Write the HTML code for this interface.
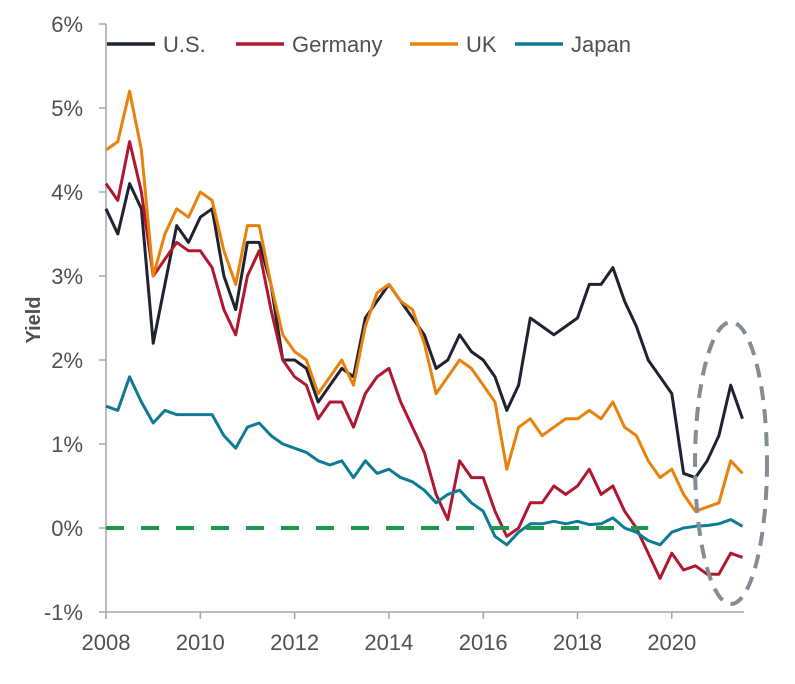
<!DOCTYPE html>
<html><head><meta charset="utf-8"><style>
html,body{margin:0;padding:0;background:#fff;}
svg{display:block;font-family:"Liberation Sans",Arial,sans-serif;}
</style></head><body>
<svg id="chart" width="795" height="684" viewBox="0 0 795 684"></svg>
<script>
const years = [];
for (let i = 0; i <= 54; i++) years.push(2008 + i * 0.25);
const usYield = [3.8,3.5,4.1,3.8,2.2,2.9,3.6,3.4,3.7,3.8,3.0,2.6,3.4,3.4,2.9,2.0,2.0,1.9,1.5,1.7,1.9,1.8,2.5,2.7,2.9,2.7,2.5,2.3,1.9,2.0,2.3,2.1,2.0,1.8,1.4,1.7,2.5,2.4,2.3,2.4,2.5,2.9,2.9,3.1,2.7,2.4,2.0,1.8,1.6,0.65,0.6,0.8,1.1,1.7,1.3];
const germanyYield = [4.1,3.9,4.6,4.0,3.0,3.2,3.4,3.3,3.3,3.1,2.6,2.3,3.0,3.3,2.6,2.0,1.8,1.7,1.3,1.5,1.5,1.2,1.6,1.8,1.9,1.5,1.2,0.9,0.4,0.1,0.8,0.6,0.6,0.2,-0.1,0.0,0.3,0.3,0.5,0.4,0.5,0.7,0.4,0.5,0.2,0.0,-0.3,-0.6,-0.3,-0.5,-0.45,-0.55,-0.55,-0.3,-0.35];
const ukYield = [4.5,4.6,5.2,4.5,3.0,3.5,3.8,3.7,4.0,3.9,3.3,2.9,3.6,3.6,2.9,2.3,2.1,2.0,1.6,1.8,2.0,1.7,2.4,2.8,2.9,2.7,2.6,2.2,1.6,1.8,2.0,1.9,1.7,1.5,0.7,1.2,1.3,1.1,1.2,1.3,1.3,1.4,1.3,1.5,1.2,1.1,0.8,0.6,0.7,0.4,0.2,0.25,0.3,0.8,0.65];
const japanYield = [1.45,1.4,1.8,1.5,1.25,1.4,1.35,1.35,1.35,1.35,1.1,0.95,1.2,1.25,1.1,1.0,0.95,0.9,0.8,0.75,0.8,0.6,0.8,0.65,0.7,0.6,0.55,0.45,0.3,0.4,0.45,0.3,0.2,-0.1,-0.2,-0.05,0.05,0.05,0.08,0.05,0.08,0.04,0.05,0.12,0.0,-0.05,-0.15,-0.2,-0.05,0.0,0.02,0.03,0.05,0.1,0.02];
const yTicks = [-1,0,1,2,3,4,5,6];
const xTicks = [2008,2010,2012,2014,2016,2018,2020];

const svg = document.getElementById('chart');
const NS = 'http://www.w3.org/2000/svg';
const xS = y => 106 + (y - 2008) * 47.15;
const yS = v => 528 - v * 84;
function mk(tag, attrs, parent) {
  const e = document.createElementNS(NS, tag);
  for (const k in attrs) e.setAttribute(k, attrs[k]);
  (parent || svg).appendChild(e);
  return e;
}
const ax = mk('line', {x1:106,y1:yS(6),x2:106,y2:yS(-1),stroke:'#a6a6a6','stroke-width':1.5});


const xa = mk('line', {x1:106,y1:yS(-1),x2:744,y2:yS(-1),stroke:'#a6a6a6','stroke-width':1.5});


yTicks.forEach(t => {
  mk('line', {x1:99,y1:yS(t),x2:106,y2:yS(t),stroke:'#a6a6a6','stroke-width':1.5});
  const tx = mk('text', {x:83,y:yS(t)+8,'text-anchor':'end','font-size':22,fill:'#505050'});
  tx.textContent = t + '%';
  
  
});
xTicks.forEach(t => {
  mk('line', {x1:xS(t),y1:yS(-1),x2:xS(t),y2:yS(-1)+7,stroke:'#a6a6a6','stroke-width':1.5});
  const tx = mk('text', {x:xS(t),y:650,'text-anchor':'middle','font-size':22,fill:'#505050'});
  tx.textContent = t;
  
  
});
const yt = mk('text', {x:0,y:0,transform:'translate(40,320) rotate(-90)','text-anchor':'middle','font-size':20,'font-weight':'bold',fill:'#505050'});
yt.textContent = 'Yield';



function series(vals, color, name) {
  const d = vals.map((v, i) => (i ? 'L' : 'M') + xS(years[i]).toFixed(1) + ',' + yS(v).toFixed(1)).join(' ');
  const p = mk('path', {d:d,fill:'none',stroke:color,'stroke-width':3,'stroke-linejoin':'round'});
  
  
}
series(usYield, '#1f2231', 'us-line');
series(germanyYield, '#b0182f', 'germany-line');
series(ukYield, '#e8820c', 'uk-line');
series(japanYield, '#0f7a94', 'japan-line');
const zl = mk('line', {x1:106,y1:yS(0),x2:xS(2019.5),y2:yS(0),stroke:'#1a9a50','stroke-width':4,'stroke-dasharray':'18,17'});


const el = mk('ellipse', {cx:731,cy:463,rx:36,ry:141,fill:'none',stroke:'#848c94','stroke-width':4,'stroke-dasharray':'14,9'});



const legend = [['U.S.','#1f2231',107],['Germany','#b0182f',236],['UK','#e8820c',410],['Japan','#0f7a94',515]];
legend.forEach(l => {
  const g = mk('g', {});
  
  
  mk('line', {x1:l[2],y1:44,x2:l[2]+48,y2:44,stroke:l[1],'stroke-width':3.5}, g);
  const t = mk('text', {x:l[2]+56,y:52,'font-size':22,fill:'#505050'}, g);
  t.textContent = l[0];
});
</script>
</body></html>
